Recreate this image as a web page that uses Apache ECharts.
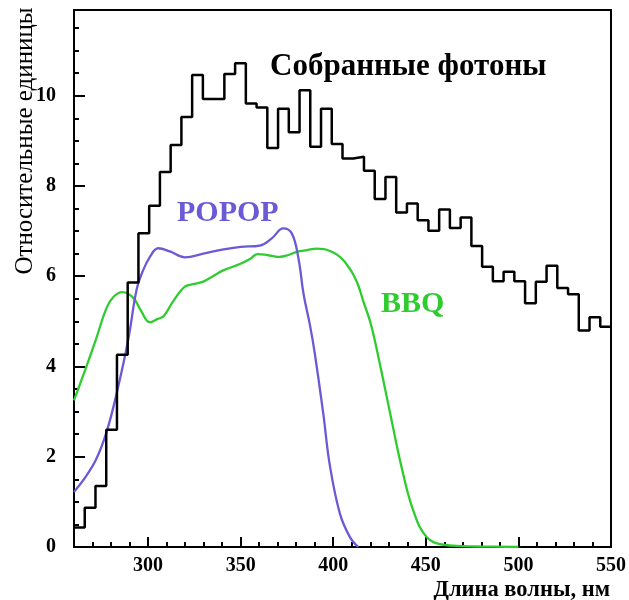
<!DOCTYPE html>
<html>
<head>
<meta charset="utf-8">
<script src="https://cdn.jsdelivr.net/npm/echarts@6/dist/echarts.min.js"></script>
<style>
html,body{margin:0;padding:0;background:#fff;}
#c{width:629px;height:600px;}
</style>
</head>
<body>
<div id="c"></div>
<script>
// ---- data ----
const binStart = 260;      // nm
const binWidth = 5.8;      // nm
const photons = [0.43,0.87,1.35,2.60,4.26,5.86,6.95,7.56,8.31,8.91,
                 9.53,10.46,9.93,9.93,10.48,10.72,9.83,9.74,8.84,9.71,
                 9.19,10.12,8.87,9.71,8.93,8.61,8.65,8.34,7.71,8.20,
                 7.41,7.61,7.24,7.01,7.48,7.07,7.30,6.67,6.21,5.89,
                 6.10,5.89,5.40,5.88,6.23,5.74,5.60,4.80,5.09,4.88];
const popopX = [260,265,271.7,277.6,283.4,289.3,293.8,297,301,305.5,311.8,319.9,329.8,340,350,360.4,366.8,373,377.6,381.2,384,387.5,390,394.6,398.2,403.6,409,413.5];
const popopY = [1.22,1.48,1.92,2.55,3.47,4.60,5.70,6.10,6.43,6.62,6.55,6.42,6.50,6.59,6.65,6.68,6.84,7.06,6.95,6.40,5.60,4.90,4.30,2.96,1.80,0.74,0.22,0.00];
const bbqX = [260,266,272,277.6,281.5,286,289,292.5,296,301,305,308.5,313.6,319.9,325,329.8,335,340.6,349.6,355,359,363,367,371,375,380.3,386,391,395,398.2,402,405.4,408,410.8,413.5,416.2,419.9,422.6,427,431.5,436.9,443.2,450.4,459.4,470,480,500];
const bbqY = [3.25,3.92,4.62,5.30,5.55,5.65,5.62,5.50,5.25,4.98,5.05,5.12,5.45,5.77,5.83,5.88,6.00,6.13,6.27,6.38,6.49,6.48,6.45,6.43,6.46,6.54,6.58,6.61,6.60,6.56,6.48,6.36,6.22,6.04,5.80,5.45,5.00,4.55,3.70,2.81,1.77,0.81,0.22,0.05,0.02,0.01,0.00];
const xMajorTicks = [300,350,400,450,500,550];
const xMinorTicks = [270,280,290,310,320,330,340,360,370,380,390,410,420,430,440,460,470,480,490,510,520,530,540];
const yMajorTicks = [0,2,4,6,8,10];
const yMinorTicks = [0.5,1,1.5,2.5,3,3.5,4.5,5,5.5,6.5,7,7.5,8.5,9,9.5,10.5,11,11.5];
const labels = {
  title: 'Собранные фотоны',
  popop: 'POPOP',
  bbq: 'BBQ',
  xName: 'Длина волны, нм',
  yName: 'Относительные единицы'
};

// ---- build ----
const photonPts = photons.map((v, i) => [binStart + i * binWidth, v]);
photonPts.push([binStart + photons.length * binWidth, photons[photons.length - 1]]);
const popopPts = popopX.map((x, i) => [x, popopY[i]]);
const bbqPts = bbqX.map((x, i) => [x, bbqY[i]]);

const FONT = '"Liberation Serif","Times New Roman",serif';
const PURPLE = '#6a5ad6';
const GREEN = '#2ecc2e';

const chart = echarts.init(document.getElementById('c'), null, {renderer: 'canvas'});
const baseX = {type: 'value', min: 260, max: 550, position: 'bottom', splitLine: {show: false}};
const baseY = {type: 'value', min: 0, max: 11.9, position: 'left', splitLine: {show: false}};
chart.setOption({
  animation: false,
  backgroundColor: '#fff',
  grid: {left: 74, right: 18, top: 10, bottom: 53, show: true, borderColor: '#000', borderWidth: 2},
  xAxis: [
    Object.assign({}, baseX, {
      axisLine: {show: true, onZero: false, lineStyle: {color: '#000', width: 2}},
      axisTick: {show: true, inside: true, length: 10, customValues: xMajorTicks, lineStyle: {color: '#000', width: 2}},
      axisLabel: {show: true, customValues: xMajorTicks, margin: 9, color: '#000', fontFamily: FONT, fontWeight: 'bold', fontSize: 20}
    }),
    Object.assign({}, baseX, {
      axisLine: {show: false, onZero: false},
      axisTick: {show: true, inside: true, length: 5, customValues: xMinorTicks, lineStyle: {color: '#000', width: 2}},
      axisLabel: {show: false}
    })
  ],
  yAxis: [
    Object.assign({}, baseY, {
      axisLine: {show: true, onZero: false, lineStyle: {color: '#000', width: 2}},
      axisTick: {show: true, inside: true, length: 11, customValues: yMajorTicks, lineStyle: {color: '#000', width: 2}},
      axisLabel: {show: true, customValues: yMajorTicks, margin: 18, color: '#000', fontFamily: FONT, fontWeight: 'bold', fontSize: 20}
    }),
    Object.assign({}, baseY, {
      axisLine: {show: false, onZero: false},
      axisTick: {show: true, inside: true, length: 5, customValues: yMinorTicks, lineStyle: {color: '#000', width: 2}},
      axisLabel: {show: false}
    })
  ],
  series: [
    {type: 'line', xAxisIndex: 0, yAxisIndex: 0, data: photonPts, step: 'end', showSymbol: false,
     lineStyle: {color: '#000', width: 2.5}, z: 3},
    {type: 'line', xAxisIndex: 0, yAxisIndex: 0, data: bbqPts, smooth: 0.4, showSymbol: false,
     lineStyle: {color: GREEN, width: 2.3}, z: 2},
    {type: 'line', xAxisIndex: 0, yAxisIndex: 0, data: popopPts, smooth: 0.4, showSymbol: false,
     lineStyle: {color: PURPLE, width: 2.3}, z: 2}
  ],
  graphic: [
    {type: 'text', x: 270, y: 67, style: {text: labels.title, fill: '#000', font: 'bold 31px ' + FONT, textAlign: 'left', textVerticalAlign: 'middle'}},
    {type: 'text', x: 177, y: 213, style: {text: labels.popop, fill: PURPLE, font: 'bold 30px ' + FONT, textAlign: 'left', textVerticalAlign: 'middle'}},
    {type: 'text', x: 381, y: 304, style: {text: labels.bbq, fill: GREEN, font: 'bold 30px ' + FONT, textAlign: 'left', textVerticalAlign: 'middle'}},
    {type: 'text', x: 610, y: 590, style: {text: labels.xName, fill: '#000', font: 'bold 22.5px ' + FONT, textAlign: 'right', textVerticalAlign: 'middle'}},
    {type: 'text', x: 25, y: 141, rotation: Math.PI / 2, style: {text: labels.yName, fill: '#000', font: '25px ' + FONT, textAlign: 'center', textVerticalAlign: 'middle'}}
  ]
});
</script>
</body>
</html>
